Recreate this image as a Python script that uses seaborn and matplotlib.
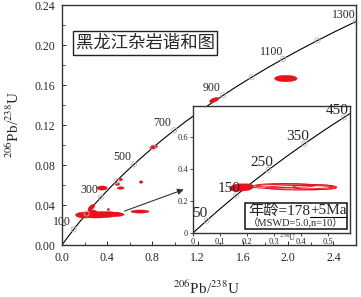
import matplotlib
matplotlib.use('Agg')
import matplotlib.pyplot as plt
from matplotlib.patches import Ellipse
from matplotlib.ticker import MultipleLocator, FixedLocator, FixedFormatter
import seaborn as sns
import pandas as pd

# concordia points (Ma, 207Pb/235U, 206Pb/238U)
ages = [0, 50, 100, 150, 200, 250, 300, 350, 400, 450, 500, 550, 600, 650,
        700, 750, 800, 850, 900, 950, 1000, 1050, 1100, 1150, 1200, 1250, 1300]
conc_x = [0.0, 0.05047, 0.10350, 0.15920, 0.21771, 0.27917, 0.34375, 0.41155,
          0.48281, 0.55766, 0.63628, 0.71887, 0.80563, 0.89677, 0.99251,
          1.09308, 1.19873, 1.30971, 1.42629, 1.54876, 1.67741, 1.81255,
          1.95452, 2.10365, 2.26030, 2.42487, 2.59774]
conc_y = [0.0, 0.007786, 0.015633, 0.023542, 0.031511, 0.039543, 0.047637,
          0.055795, 0.064016, 0.072300, 0.080650, 0.089064, 0.097544,
          0.106090, 0.114700, 0.123382, 0.132130, 0.140944, 0.149820,
          0.158781, 0.167800, 0.176897, 0.186050, 0.195296, 0.204590,
          0.213983, 0.223430]

main_labels = [100, 300, 500, 700, 900, 1100, 1300]
inset_labels = [50, 150, 250, 350, 450]

# error ellipses, main diagram: centre x, centre y, width, height, angle
main_ex = [0.30, 0.36, 0.20, 0.44, 0.27, 0.69, 0.26, 0.41, 0.355, 0.49, 0.52, 0.52, 0.70, 0.81, 1.345, 1.98]
main_ey = [0.0295, 0.0312, 0.0300, 0.0305, 0.0330, 0.0335, 0.0375, 0.0355, 0.0570, 0.0610, 0.0570, 0.0655, 0.0630, 0.0980, 0.1450, 0.1665]
main_ew = [0.34, 0.34, 0.16, 0.22, 0.08, 0.16, 0.06, 0.02, 0.09, 0.04, 0.06, 0.03, 0.03, 0.07, 0.08, 0.20]
main_eh = [0.0050, 0.0045, 0.0060, 0.0045, 0.0040, 0.0032, 0.0050, 0.0022, 0.0042, 0.0030, 0.0025, 0.0025, 0.0025, 0.0035, 0.0042, 0.0065]
main_ea = [0, 0, 0, 0, 0, 0, 4, 0, 0, 0, 0, 0, 0, 1, 2, 0]

# inset: concordant (filled) and discordant (open) ellipses
fill_ex = [0.18, 0.20, 0.16]
fill_ey = [0.0285, 0.0290, 0.0280]
fill_ew = [0.08, 0.05, 0.05]
fill_eh = [0.0045, 0.0035, 0.0040]
open_ex = [0.37, 0.40, 0.34, 0.45]
open_ey = [0.0290, 0.0283, 0.0297, 0.0287]
open_ew = [0.30, 0.26, 0.22, 0.16]
open_eh = [0.0030, 0.0028, 0.0025, 0.0030]

inset_xticks = [0, 0.1, 0.2, 0.3, 0.4, 0.5]
inset_xlabels = ['0', '0.1', '0.2', '0.3', '0.4', '0.5']
inset_yticks = [0, 0.02, 0.04, 0.06]
inset_ylabels = ['0', '0.2', '0.4', '0.6']

sns.set_style('ticks')
plt.rcParams['font.family'] = ['Liberation Serif', 'Noto Sans CJK SC']
plt.rcParams['mathtext.fontset'] = 'stix'

RED = '#e3141b'
conc = pd.DataFrame({'age': ages, 'x': conc_x, 'y': conc_y})

fig = plt.figure(figsize=(3.61, 2.97), dpi=100)
ax = fig.add_axes([0.1717, 0.175, 0.8143, 0.808])

sns.lineplot(data=conc, x='x', y='y', sort=False, estimator=None, color='k', lw=0.8, ax=ax)
marks = conc[conc.age % 100 == 0]
sns.scatterplot(data=marks[marks.age > 0], x='x', y='y', s=14, facecolor='none',
                edgecolor='#b5b5b5', linewidth=0.6, ax=ax, zorder=3)
for a in main_labels:
    r = conc[conc.age == a].iloc[0]
    ax.annotate(str(a), (r.x, r.y), xytext=(-8.5, 5), textcoords='offset points',
                ha='center', va='center', fontsize=8.5)

for cx, cy, w, h, ang in zip(main_ex, main_ey, main_ew, main_eh, main_ea):
    ax.add_patch(Ellipse((cx, cy), w, h, angle=ang, facecolor=RED, edgecolor=RED, lw=0.3, zorder=2))

ax.set_xlim(0, 2.6)
ax.set_ylim(0, 0.24)
ax.xaxis.set_major_locator(MultipleLocator(0.4))
ax.xaxis.set_minor_locator(MultipleLocator(0.2))
ax.yaxis.set_major_locator(MultipleLocator(0.04))
ax.yaxis.set_minor_locator(MultipleLocator(0.02))
ax.xaxis.set_major_formatter('{x:.1f}')
ax.yaxis.set_major_formatter('{x:.2f}')
ax.tick_params(which='both', direction='in', labelsize=8.5, pad=5)
ax.tick_params(which='major', length=3, width=0.7)
ax.tick_params(which='minor', length=2, width=0.6)
for s in ax.spines.values():
    s.set_linewidth(1.0)
    s.set_color('#333333')
ax.set_xlabel(r'$^{206}$Pb/$^{238}$U', fontsize=11)
ax.set_ylabel(r'$^{206}$Pb/$^{238}$U', fontsize=11)
ax.xaxis.set_label_coords(0.49, -0.145)
ax.yaxis.set_label_coords(-0.135, 0.5)

ax.text(0.283, 0.842, '黑龙江杂岩谐和图', transform=ax.transAxes, ha='center', va='center',
        fontsize=12.5, family=['Noto Sans CJK SC'],
        bbox=dict(boxstyle='square,pad=0.15', facecolor='white', edgecolor='#222222', lw=1.0))

ax.annotate('', xy=(1.10, 0.0565), xytext=(0.53, 0.033),
            arrowprops=dict(arrowstyle='-|>', color='#333333', lw=0.8, mutation_scale=9))

# inset
ins = fig.add_axes([0.5346, 0.2155, 0.4349, 0.4275])
ins.set_facecolor('white')
sns.lineplot(data=conc, x='x', y='y', sort=False, estimator=None, color='k', lw=0.8, ax=ins)
sub = conc[conc.age.isin(inset_labels)]
sns.scatterplot(data=sub, x='x', y='y', s=14, facecolor='none', edgecolor='#b5b5b5',
                linewidth=0.6, ax=ins, zorder=3)
for a in inset_labels:
    r = conc[conc.age == a].iloc[0]
    ins.annotate(str(a), (r.x, r.y), xytext=(-5, 5), textcoords='offset points',
                 ha='center', va='center', fontsize=11)
for cx, cy, w, h in zip(open_ex, open_ey, open_ew, open_eh):
    ins.add_patch(Ellipse((cx, cy), w, h, facecolor='none', edgecolor=RED, lw=0.7, zorder=2))
for cx, cy, w, h in zip(fill_ex, fill_ey, fill_ew, fill_eh):
    ins.add_patch(Ellipse((cx, cy), w, h, facecolor=RED, edgecolor=RED, lw=0.3, zorder=2))
ins.set_xlim(0, 0.58)
ins.set_ylim(0, 0.0794)
ins.xaxis.set_major_locator(FixedLocator(inset_xticks))
ins.xaxis.set_major_formatter(FixedFormatter(inset_xlabels))
ins.yaxis.set_major_locator(FixedLocator(inset_yticks))
ins.yaxis.set_major_formatter(FixedFormatter(inset_ylabels))
ins.tick_params(direction='out', length=2, width=0.6, labelsize=6, pad=1.5)
ins.set_xlabel('')
ins.set_ylabel('')
for s in ins.spines.values():
    s.set_linewidth(1.0)
    s.set_color('#333333')
fig.text(279 / 361, 1 - 241 / 297, r'$^{238}$U', fontsize=6, ha='left', va='baseline')

# age box
bx0, bx1, by0, by1 = 245, 347, 203, 229
box = plt.Rectangle((bx0 / 361, 1 - by1 / 297), (bx1 - bx0) / 361, (by1 - by0) / 297,
                    transform=fig.transFigure, facecolor='white', edgecolor='#111111', lw=1.1, zorder=5)
fig.patches.append(box)
t1 = fig.text(248 / 361, 1 - 211 / 297, '年龄=178', fontsize=11, ha='left', va='center', zorder=6)
fig.text(296 / 361, 1 - 223 / 297, '（MSWD=5.0,n=10）', fontsize=7.5, ha='center', va='center', zorder=6)
fig.canvas.draw()
b1 = t1.get_window_extent()
t2 = fig.text(b1.x1 / fig.bbox.width, 1 - 211 / 297, '+5Ma', fontsize=11, ha='left', va='center', zorder=6)
fig.canvas.draw()
bb = t2.get_window_extent()
fig.add_artist(plt.Line2D([bb.x0 / fig.bbox.width, bb.x1 / fig.bbox.width],
                          [(bb.y0 + 0.5) / fig.bbox.height] * 2, transform=fig.transFigure,
                          color='k', lw=0.8, zorder=6))

fig.savefig('out.png', dpi=100)
